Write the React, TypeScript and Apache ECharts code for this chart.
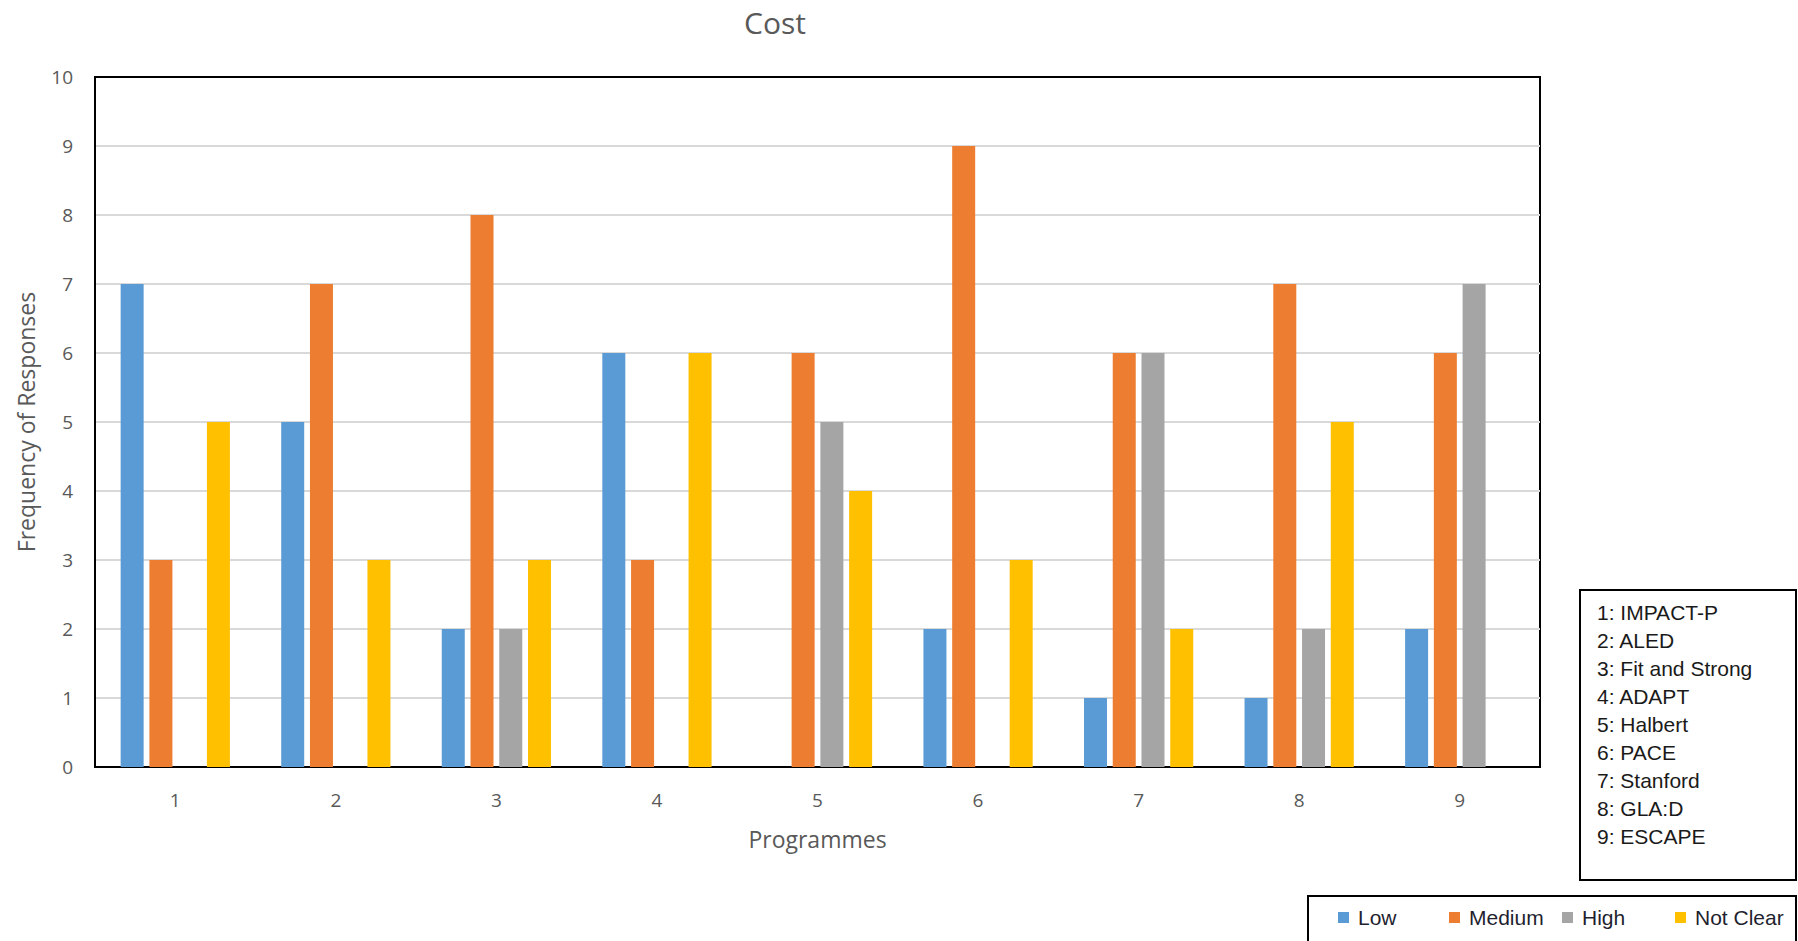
import React, { useEffect, useRef } from "react";
import * as echarts from "echarts";

const categories = ["1", "2", "3", "4", "5", "6", "7", "8", "9"];
const lowValues = [7, 5, 2, 6, 0, 2, 1, 1, 2];
const mediumValues = [3, 7, 8, 3, 6, 9, 6, 7, 6];
const highValues = [0, 0, 2, 0, 5, 0, 6, 2, 7];
const notClearValues = [5, 3, 3, 6, 4, 3, 2, 5, 0];
const seriesNames = ["Low", "Medium", "High", "Not Clear"];
const seriesColors = ["#5B9BD5", "#ED7D31", "#A5A5A5", "#FFC000"];
const programmeNames = [
  "1: IMPACT-P",
  "2: ALED",
  "3: Fit and Strong",
  "4: ADAPT",
  "5: Halbert",
  "6: PACE",
  "7: Stanford",
  "8: GLA:D",
  "9: ESCAPE",
];

export default function App() {
  const ref = useRef<HTMLDivElement>(null);
  useEffect(() => {
    if (!ref.current) return;
    const chart = echarts.init(ref.current, null, { renderer: "svg" });
    const values = [lowValues, mediumValues, highValues, notClearValues];
    const legendLefts = [1333, 1444, 1557, 1670];
    const axisFont = "'Open Sans', sans-serif";
    const splitColors = Array.from({ length: 11 }, (_, i) => (i === 10 ? "#000000" : "#d9d9d9"));
    chart.setOption({
      animation: false,
      backgroundColor: "#ffffff",
      title: {
        text: "Cost",
        left: 739,
        top: 2,
        textStyle: { fontFamily: axisFont, fontSize: 30, fontWeight: "normal", color: "#595959" },
      },
      legend: seriesNames.map((n, i) => ({
        data: [n],
        left: legendLefts[i],
        top: 902,
        icon: "rect",
        itemWidth: 11,
        itemHeight: 11,
        itemGap: 8,
        textStyle: {
          fontFamily: "'Liberation Sans', Arial, sans-serif",
          fontSize: 21,
          color: "#1f1f2f",
          padding: [0, 0, 0, 4],
        },
      })),
      grid: {
        left: 95,
        right: 258,
        top: 77,
        bottom: 174,
        show: true,
        borderColor: "#000000",
        borderWidth: 2,
        containLabel: false,
      },
      xAxis: {
        type: "category",
        data: categories,
        name: "Programmes",
        nameLocation: "middle",
        nameGap: 60,
        nameTextStyle: { fontFamily: axisFont, fontSize: 23, color: "#595959" },
        axisLine: { show: true, lineStyle: { color: "#000000", width: 2 } },
        axisTick: { show: false },
        axisLabel: { fontFamily: axisFont, fontSize: 19, color: "#595959", margin: 23 },
      },
      yAxis: {
        type: "value",
        min: 0,
        max: 10,
        interval: 1,
        name: "Frequency of Responses",
        nameLocation: "middle",
        nameGap: 58,
        nameTextStyle: { fontFamily: axisFont, fontSize: 23, color: "#595959" },
        axisLine: { show: true, lineStyle: { color: "#000000", width: 2 } },
        axisTick: { show: false },
        axisLabel: { fontFamily: axisFont, fontSize: 19, color: "#595959", margin: 22 },
        splitLine: { show: true, lineStyle: { color: splitColors, width: 2 } },
      },
      series: seriesNames.map((n, i) => ({
        name: n,
        type: "bar",
        data: values[i],
        barWidth: 23,
        barGap: "25%",
        barCategoryGap: "32%",
        itemStyle: { color: seriesColors[i] },
      })),
      graphic: [
        {
          type: "rect",
          shape: { x: 1580, y: 590, width: 216, height: 290 },
          style: { fill: "#ffffff", stroke: "#000000", lineWidth: 2 },
        },
        {
          type: "rect",
          shape: { x: 1308, y: 896, width: 488, height: 60 },
          style: { fill: "none", stroke: "#000000", lineWidth: 2 },
          z: -1,
        },
        ...programmeNames.map((t, i) => ({
          type: "text",
          x: 1597,
          y: 612 + i * 28.1,
          style: {
            text: t,
            fontFamily: "'Liberation Sans', Arial, sans-serif",
            fontSize: 21,
            fill: "#1a1a1a",
            verticalAlign: "middle",
          },
        })),
      ],
    });
    return () => chart.dispose();
  }, []);
  return (
    <div
      ref={ref}
      style={{ position: "fixed", left: 0, top: 0, width: 1798, height: 941 }}
    />
  );
}
